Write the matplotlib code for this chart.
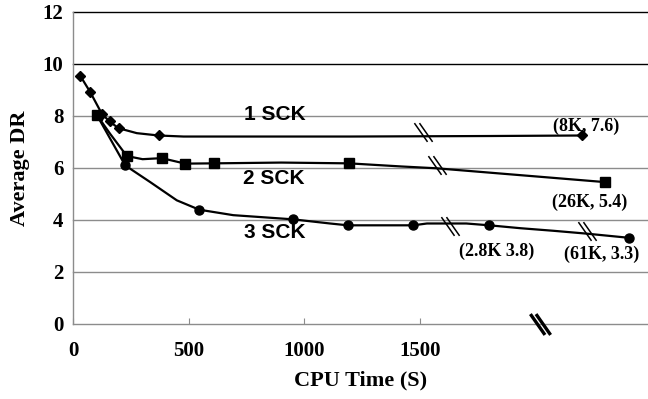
import matplotlib
matplotlib.use("Agg")
import matplotlib.pyplot as plt
from matplotlib.path import Path

plt.rcParams['font.family'] = ['Liberation Serif', 'DejaVu Serif']
plt.rcParams['font.weight'] = 'bold'

# 1 SCK (diamonds)
t1 = [30, 74, 124, 157, 196, 275, 369, 477, 1200, 1800, 2202]
dr1 = [9.54, 8.9, 8.07, 7.78, 7.52, 7.33, 7.24, 7.2, 7.2, 7.22, 7.24]
mk1 = [0, 1, 2, 3, 4, 6, 10]

# 2 SCK (squares)
t2 = [102, 160, 232, 300, 383, 484, 608, 900, 1193, 1420, 1572, 2300]
dr2 = [8.03, 7.3, 6.45, 6.33, 6.37, 6.16, 6.17, 6.2, 6.17, 6.05, 5.98, 5.45]
mk2 = [0, 2, 4, 5, 6, 8, 11]

# 3 SCK (circles)
t3 = [102, 225, 333, 448, 545, 692, 950, 1111, 1188, 1471, 1530, 1700,
      1800, 1933, 2077, 2221, 2404]
dr3 = [8.03, 6.09, 5.45, 4.75, 4.39, 4.18, 4.02, 3.86, 3.79, 3.79, 3.86,
       3.86, 3.79, 3.68, 3.58, 3.47, 3.31]
mk3 = [1, 4, 6, 8, 9, 12, 16]

# break marks on the curves and on the x axis
brk_t = [1514, 1572, 1630, 2221]
brk_dr = [7.37, 6.09, 3.75, 3.56]
axis_brk_t = 2019

# labels
curve_labels = ['1 SCK', '2 SCK', '3 SCK']
curve_label_t = [871, 869, 872]
curve_label_dr = [8.03, 5.58, 3.52]

end_labels = ['(8K, 7.6)', '(26K, 5.4)', '(2.8K 3.8)', '(61K, 3.3)']
end_label_t = [2219, 2235, 1832, 2286]
end_label_dr = [7.59, 4.69, 2.79, 2.67]

x_ticks = [0, 500, 1000, 1500]
y_ticks = [0, 2, 4, 6, 8, 10, 12]

# "\\" shaped break marker
brk_path = Path([(-0.485, 0.5), (0.215, -0.5), (-0.215, 0.5), (0.485, -0.5)],
                [Path.MOVETO, Path.LINETO, Path.MOVETO, Path.LINETO])

fig, ax = plt.subplots(figsize=(6.48, 3.99), dpi=100)
fig.subplots_adjust(left=0.113, right=1.0, bottom=0.188, top=0.971)

for v in y_ticks[1:]:
    c = 'black' if v >= 10 else '#8c8c8c'
    ax.axhline(v, color=c, lw=1.0, zorder=1, clip_on=False)

ax.plot(t3, dr3, color='black', lw=1.6, marker='o', ms=6.5, markevery=mk3, zorder=3)
ax.plot(t2, dr2, color='black', lw=1.6, marker='s', ms=6.5, markevery=mk2, zorder=3)
ax.plot(t1, dr1, color='black', lw=1.6, marker='D', ms=5.2, markevery=mk1, zorder=3)

ax.plot(brk_t, brk_dr, ls='none', marker=brk_path, ms=13.5, mfc='none',
        mec='black', mew=1.1, zorder=4)
ax.plot([axis_brk_t], [0], ls='none', marker=brk_path, ms=15, mfc='none',
        mec='black', mew=2.4, zorder=5, clip_on=False)

for txt, x, y in zip(curve_labels, curve_label_t, curve_label_dr):
    ax.text(x, y, txt, family=['Liberation Sans', 'DejaVu Sans'], fontsize=15,
            fontweight='bold', ha='center', va='center', zorder=6)

for txt, x, y in zip(end_labels, end_label_t, end_label_dr):
    ax.text(x, y, txt, fontsize=13, fontweight='bold', ha='center',
            va='center', zorder=6)

ax.set_xlim(0, 2486)
ax.set_ylim(0, 12)
ax.set_xticks(x_ticks)
ax.set_yticks(y_ticks)
ax.tick_params(axis='x', direction='in', length=4, color='#8c8c8c', pad=12, labelsize=15)
ax.tick_params(axis='y', length=0, pad=7, labelsize=15)

for s in ['top', 'right']:
    ax.spines[s].set_visible(False)
ax.spines['left'].set_color('#8c8c8c')
ax.spines['bottom'].set_color('#8c8c8c')
ax.spines['left'].set_linewidth(1.0)
ax.spines['bottom'].set_linewidth(1.0)

ax.set_xlabel('CPU Time (S)', fontsize=16, fontweight='bold', labelpad=7)
ax.set_ylabel('Average DR', fontsize=16, fontweight='bold', labelpad=9)

fig.savefig('out.png', dpi=100)
